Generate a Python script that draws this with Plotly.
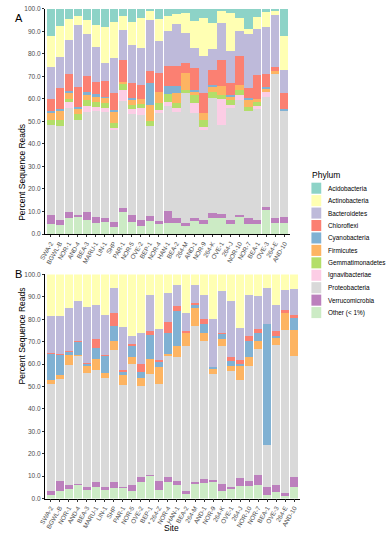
import plotly.graph_objects as go

# ---------------- data ----------------
phyla = ["Acidobacteria", "Actinobacteria", "Bacteroidetes", "Chloroflexi", "Cyanobacteria",
         "Firmicutes", "Gemmatimonadetes", "Ignavibacteriae", "Proteobacteria",
         "Verrucomicrobia", "Other (< 1%)"]
colors = ["#8DD3C7", "#FFFFB3", "#BEBADA", "#FB8072", "#80B1D3", "#FDB462",
          "#B3DE69", "#FCCDE5", "#D9D9D9", "#BC80BD", "#CCEBC5"]

sites_a = ["SWA-2", "BGWL-B", "NOR-1", "AND-4", "BEA-3", "MARU-1", "LIN-1", "SHP", "PAR-1",
           "NOR-5", "OVE-2", "BEP-1", "NOR-4", "HAN-1", "BEA-2", "264-M", "AND-1", "NOR-9",
           "264-K", "OVE-1", "264-J", "NOR-10", "NOR-7", "BEA-1", "OVE-3", "264-E", "AND-10"]

acido_a = [12, 7.5, 4.5, 3, 5, 7, 8, 6, 3, 6, 4, 1, 4.6, 3.1, 2.4, 1.6, 5.4, 4.2, 6.1, 0.9, 1.6, 3.9, 9, 3.5, 1.5, 1, 12]
actino_a = [14, 14, 9.5, 4, 6, 10, 16, 16, 6.5, 10, 13.3, 4, 9.7, 6.7, 4.5, 9, 11.9, 16.8, 11.9, 5.2, 17.2, 5.9, 2, 5.5, 6.5, 1.5, 15]
bact_a = [14, 13.5, 15, 27.5, 19, 15.5, 8, 15.5, 13, 17, 16.4, 22.7, 14.2, 15.7, 18.6, 13.4, 8.9, 16.4, 9, 16.4, 14.1, 11.2, 24, 20.3, 21, 23.5, 10.5]
chloro_a = [5.5, 9.5, 7.5, 9, 7, 5.5, 7, 7.5, 10, 6.5, 6.3, 5.3, 8.2, 8.9, 8.9, 4.5, 9.7, 8.9, 6.7, 11.9, 5.3, 12.7, 4.5, 10.7, 5.5, 1.5, 7]
cyano_a = [0.7, 1, 0.5, 0.5, 1.2, 1, 0.5, 0.5, 0, 0.5, 0, 9.6, 0, 3.6, 3, 0, 0.8, 0, 0.7, 0, 0.7, 0, 1, 0, 1, 0, 0.5]
firm_a = [3.1, 4, 3, 2.5, 2.3, 2.5, 2.5, 5, 1, 2.5, 2.2, 7.4, 5.2, 0, 4.5, 7.4, 1.5, 3, 2.5, 3.8, 1.5, 2.2, 3, 1.5, 1.5, 1.5, 0]
gemm_a = [2.3, 2.5, 1.5, 3, 2.5, 2, 2, 2.5, 2.5, 2, 1.8, 2, 3, 3.5, 2.2, 1.5, 3.7, 3, 2.7, 1.8, 2.2, 2.3, 2, 1.5, 0, 0, 0]
ignav_a = [0, 0, 2.5, 0, 3, 2, 2, 1, 5, 2, 3, 0, 1.4, 1.5, 1.5, 0, 4.4, 1.5, 0, 11.6, 1.5, 2.2, 0, 1.5, 2, 0, 0]
proteo_a = [39.8, 41.6, 46.4, 41.9, 44.3, 47.1, 47.1, 40.6, 47.6, 45.2, 46.6, 40.1, 48, 47, 47.3, 57.6, 46.6, 40.2, 51.1, 39.5, 49.5, 51, 47.4, 49.5, 49.1, 64, 47.5]
verr_a = [4.3, 2.4, 2.7, 1.2, 3.7, 2.4, 1.5, 2.3, 1.8, 2.9, 2.8, 2.2, 1.4, 5, 2.1, 1.4, 1.4, 1.7, 2.2, 1.8, 2.1, 1, 2.5, 1.7, 1.4, 2, 2.5]
other_a = [4.3, 4, 6.9, 7.4, 6, 5, 5.4, 3.1, 9.6, 5.4, 3.6, 5.7, 4.3, 5, 5, 3.6, 5.7, 4.3, 7.1, 7.1, 4.3, 7.6, 4.6, 4.3, 10.5, 5, 5]

sites_b = ["SWA-2", "BGWL-B", "NOR-1", "AND-4", "BEA-3", "MARU-1", "LIN-1", "SHP", "PAR-1",
           "NOR-5", "OVE-2", "BEP-1", "* 264-Z", "NOR-4", "HAN-1", "BEA-2", "264-M", "AND-1",
           "NOR-9", "264-K", "OVE-1", "264-J", "NOR-10", "NOR-7", "BEA-1", "OVE-3", "264-E", "AND-10"]

acido_b = [0, 0, 0, 0, 0, 0, 0, 0, 0, 0, 0, 0, 0, 0, 0, 0, 0, 0, 0, 0, 0, 0, 0, 0, 0, 0, 0, 0]
actino_b = [18.5, 18.5, 15, 12, 14.5, 13.5, 18, 6, 23.5, 27.5, 26, 9, 24.5, 8.3, 4.6, 17, 4.6, 9, 20, 7.5, 12, 24, 9, 9.7, 6, 13.7, 7, 6.3]
bact_b = [16.5, 17, 19, 17.5, 25, 15.5, 18, 11, 19, 3.5, 14, 16.2, 13.5, 12.7, 9.6, 8.2, 8.1, 11, 21.4, 18.5, 25, 14, 18.4, 14.8, 16.3, 11.7, 9, 11.7]
chloro_b = [0.3, 0.5, 0.7, 0.5, 0.5, 4, 0.5, 6, 1, 1, 3.7, 1.8, 1, 5, 2.2, 0.8, 0.8, 2.3, 0, 0.7, 1.5, 2, 2.2, 1.5, 0, 2.2, 1, 1.5]
cyano_b = [12, 9, 1.3, 6, 1, 4.5, 7.5, 6.5, 1.5, 5, 2.3, 10.8, 2.5, 9.5, 15.6, 0, 1.5, 3.7, 0.8, 2.3, 2.2, 0.7, 7.4, 3.6, 53.7, 0.7, 0, 5.2]
firm_b = [1.7, 1.5, 4.5, 0.5, 3, 5, 2, 4, 4.5, 3, 3.6, 6.6, 7.5, 0.7, 5, 6, 8, 3.6, 2.2, 3, 2.3, 6.6, 3.7, 3.7, 0, 3, 8, 11.7]
gemm_b = [0, 0, 0, 0, 0, 0, 0, 0, 0, 0, 0, 0, 0, 0, 0, 0, 0, 0, 0, 0, 0, 0, 0, 0, 0, 0, 0, 0]
ignav_b = [0, 0, 0, 0, 0, 0, 0, 0, 0, 0, 0, 0, 0, 0, 0, 0, 0, 0, 0, 0, 0, 0, 0, 0, 0, 0, 0, 0]
proteo_b = [47.6, 45.7, 53.5, 56.9, 50.9, 50.1, 48.7, 59.3, 45.2, 54.1, 40.8, 44.9, 43.2, 54.1, 55.2, 64.5, 69.5, 61.6, 47.5, 61.4, 51.9, 43.6, 51.6, 56.1, 19, 62.7, 72.5, 54.1]
verr_b = [1.8, 4.4, 1.7, 0.6, 1.3, 2.3, 1.5, 2.3, 0.7, 2.5, 2.2, 0.8, 4.1, 2.3, 1.8, 1.5, 0.9, 1.8, 0.9, 3.2, 1, 3.6, 2.2, 4.4, 3.5, 3, 1.5, 4.5]
other_b = [1.6, 3.4, 4.3, 6, 3.8, 5.1, 3.8, 4.9, 4.6, 3.4, 7.4, 9.9, 3.7, 7.4, 6, 2, 6.6, 7, 7.2, 3.4, 4.1, 5.5, 5.5, 6.2, 1.5, 3, 1, 5]

y_ticks = [0, 10, 20, 30, 40, 50, 60, 70, 80, 90, 100]

series_a = [acido_a, actino_a, bact_a, chloro_a, cyano_a, firm_a, gemm_a, ignav_a, proteo_a, verr_a, other_a]
series_b = [acido_b, actino_b, bact_b, chloro_b, cyano_b, firm_b, gemm_b, ignav_b, proteo_b, verr_b, other_b]

# ---------------- figure ----------------
W, H = 389, 544
FONT = "Liberation Sans, Arial, sans-serif"
TICKCOL = "#4D4D4D"

def fx(p):
    return p / W

def fy(p):
    return 1 - p / H

fig = go.Figure()
# stack from bottom: Other first, Acidobacteria last
for i in reversed(range(len(phyla))):
    fig.add_trace(go.Bar(x=sites_a, y=series_a[i], name=phyla[i], marker_color=colors[i],
                         marker_line_width=0, showlegend=False, xaxis="x", yaxis="y"))
for i in reversed(range(len(phyla))):
    fig.add_trace(go.Bar(x=sites_b, y=series_b[i], name=phyla[i], marker_color=colors[i],
                         marker_line_width=0, showlegend=False, xaxis="x2", yaxis="y2"))

common_x = dict(type="category", tickangle=-60, showline=True, linecolor="black", linewidth=0.8,
                ticks="outside", ticklen=2.5, tickcolor="#333333", tickwidth=0.8,
                tickfont=dict(family=FONT, size=6.3, color=TICKCOL), showgrid=False, zeroline=False)
common_y = dict(range=[0, 100], tickvals=y_ticks, tickformat=".1f", ticksuffix="%",
                showline=True, linecolor="black", linewidth=0.8, ticks="outside", ticklen=2.5,
                tickcolor="#333333", tickwidth=0.8,
                tickfont=dict(family=FONT, size=6.5, color=TICKCOL), showgrid=False, zeroline=False)

fig.update_layout(
    width=W, height=H, margin=dict(l=0, r=0, t=0, b=0),
    paper_bgcolor="white", plot_bgcolor="white",
    barmode="stack", bargap=0.1,
    font=dict(family=FONT),
    xaxis=dict(domain=[fx(39), fx(288)], range=[-0.6, len(sites_a) - 0.4], anchor="y", **common_x),
    yaxis=dict(domain=[fy(233), fy(5)], anchor="x", **common_y),
    xaxis2=dict(domain=[fx(39), fx(298)], range=[-0.6, len(sites_b) - 0.4], anchor="y2", **common_x),
    yaxis2=dict(domain=[fy(501), fy(274)], anchor="x2", **common_y),
)

ann = []
ann.append(dict(text="Percent Sequence Reads", x=fx(8), y=fy(119), xref="paper", yref="paper",
                textangle=-90, showarrow=False, font=dict(size=8.5, color="black", family=FONT)))
ann.append(dict(text="Percent Sequence Reads", x=fx(8), y=fy(387), xref="paper", yref="paper",
                textangle=-90, showarrow=False, font=dict(size=8.5, color="black", family=FONT)))
ann.append(dict(text="Site", x=fx(168), y=fy(538), xref="paper", yref="paper", showarrow=False,
                font=dict(size=8.5, color="black", family=FONT)))
ann.append(dict(text="A", x=fx(6), y=fy(6), xref="paper", yref="paper", showarrow=False,
                font=dict(size=11, color="black", family=FONT)))
ann.append(dict(text="B", x=fx(6), y=fy(274), xref="paper", yref="paper", showarrow=False,
                font=dict(size=11, color="black", family=FONT)))

# manual legend
ann.append(dict(text="Phylum", x=fx(309), y=fy(166), xref="paper", yref="paper", showarrow=False,
                xanchor="left", font=dict(size=8.5, color="black", family=FONT)))
shapes = []
for i, name in enumerate(phyla):
    top = 181 + i * 12.6
    shapes.append(dict(type="rect", xref="paper", yref="paper", x0=fx(310), x1=fx(320),
                       y0=fy(top + 11.2), y1=fy(top), fillcolor=colors[i], line=dict(width=0)))
    ann.append(dict(text=name, x=fx(325), y=fy(top + 5.6), xref="paper", yref="paper",
                    showarrow=False, xanchor="left",
                    font=dict(size=6.4, color="black", family=FONT)))

fig.update_layout(annotations=ann, shapes=shapes)
fig.write_html("out.html", config={"displayModeBar": False},
               post_script="document.body.style.margin='0';document.body.style.overflow='hidden';")
